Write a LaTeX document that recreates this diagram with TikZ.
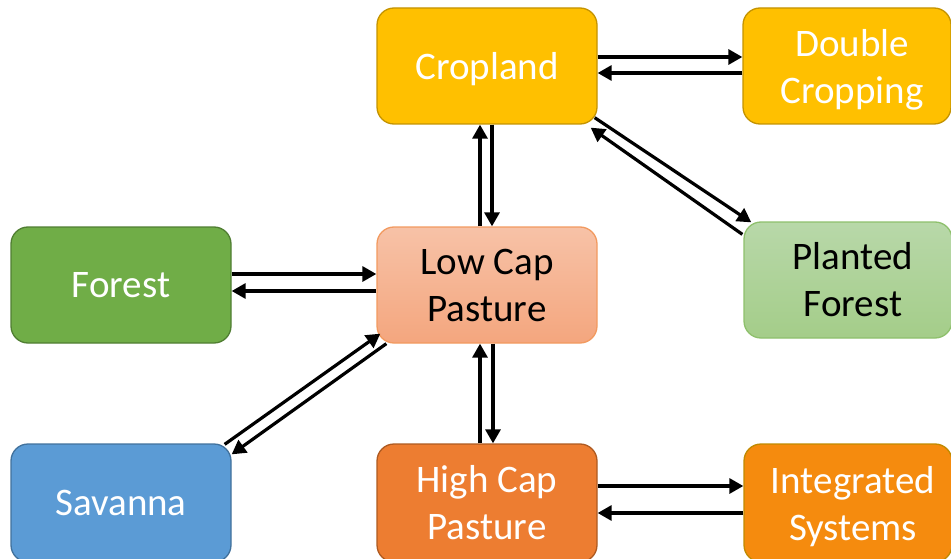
\documentclass[tikz,border=0pt]{standalone}
\usepackage{fontspec}
\setmainfont{Carlito}
\usetikzlibrary{arrows.meta,calc}
\definecolor{cropfill}{HTML}{FFC000}
\definecolor{cropdraw}{HTML}{C49300}
\definecolor{forestfill}{HTML}{70AD47}
\definecolor{forestdraw}{HTML}{507E32}
\definecolor{lowtop}{HTML}{F7C2A7}
\definecolor{lowbot}{HTML}{F4A67E}
\definecolor{lowdraw}{HTML}{F29A60}
\definecolor{pltop}{HTML}{B8D8A9}
\definecolor{plbot}{HTML}{A4CD89}
\definecolor{pldraw}{HTML}{8EC06C}
\definecolor{savfill}{HTML}{5B9BD5}
\definecolor{savdraw}{HTML}{41719C}
\definecolor{highfill}{HTML}{ED7D31}
\definecolor{highdraw}{HTML}{AE5A21}
\definecolor{intfill}{HTML}{F58B0E}
\definecolor{intdraw}{HTML}{C08A00}
\tikzset{
  box/.style={rectangle, rounded corners=17pt, minimum width=220pt, minimum height=116pt,
    line width=1.3pt, align=center, inner sep=0pt, text=white,
    font=\fontsize{39}{47}\selectfont},
  narrowbox/.style={box, minimum width=208pt},
  arr/.style={line width=3.2pt, -{Triangle[length=14pt,width=15pt]}}
}
\newcommand{\rs}{\hspace*{10pt}}
\begin{document}
\begin{tikzpicture}[x=1pt,y=-1pt]
\useasboundingbox (0,0) rectangle (951,559);
\clip (0,0) rectangle (951,559);
\node[box, fill=cropfill, draw=cropdraw, text depth=0pt] (crop) at (487,66) {Cropland};
\node[narrowbox, fill=cropfill, draw=cropdraw, text depth=0pt] (dc) at (847,66) {\rs Double\\\rs Cropping};
\node[box, fill=forestfill, draw=forestdraw] (forest) at (121,285) {Forest};
\node[box, top color=lowtop, bottom color=lowbot, draw=lowdraw, text=black] (low) at (487,285) {Low Cap\\Pasture};
\node[narrowbox, top color=pltop, bottom color=plbot, draw=pldraw, text=black] (pl) at (848,280) {\rs Planted\\\rs Forest};
\node[box, minimum height=118pt, fill=savfill, draw=savdraw] (sav) at (121,503) {Savanna};
\node[box, minimum height=118pt, fill=highfill, draw=highdraw] (high) at (487,503) {High Cap\\Pasture};
\node[narrowbox, minimum height=118pt, fill=intfill, draw=intdraw, text depth=0pt] (int) at (848,503) {\rs Integrated\\\rs Systems};
% Cropland <-> Double Cropping
\draw[arr] ($(crop.east)+(0,-9)$) -- ($(dc.west)+(0,-9)$);
\draw[arr] ($(dc.west)+(0,7)$) -- ($(crop.east)+(0,7)$);
% Cropland <-> Low Cap
\draw[arr] ($(low.north)+(-7,0)$) -- ($(crop.south)+(-7,0)$);
\draw[arr] ($(crop.south)+(5,0)$) -- ($(low.north)+(5,0)$);
% Cropland <-> Planted Forest
\draw[arr] ($(crop.south east)+(-3,-7)$) -- ($(pl.north west)+(8,1)$);
\draw[arr] ($(pl.north west)+(-1,13)$) -- ($(crop.south east)+(-7,3)$);
% Forest <-> Low Cap
\draw[arr] ($(forest.east)+(0,-11)$) -- ($(low.west)+(0,-11)$);
\draw[arr] ($(low.west)+(0,6)$) -- ($(forest.east)+(0,6)$);
% Savanna <-> Low Cap
\draw[arr] ($(sav.north east)+(-7,1)$) -- ($(low.south west)+(4,-10)$);
\draw[arr] ($(low.south west)+(10,0)$) -- ($(sav.north east)+(0,11)$);
% Low Cap <-> High Cap
\draw[arr] ($(high.north)+(-7,0)$) -- ($(low.south)+(-7,0)$);
\draw[arr] ($(low.south)+(6,0)$) -- ($(high.north)+(6,0)$);
% High Cap <-> Integrated
\draw[arr] ($(high.east)+(0,-17)$) -- ($(int.west)+(0,-17)$);
\draw[arr] ($(int.west)+(0,10)$) -- ($(high.east)+(0,10)$);
\end{tikzpicture}
\end{document}
